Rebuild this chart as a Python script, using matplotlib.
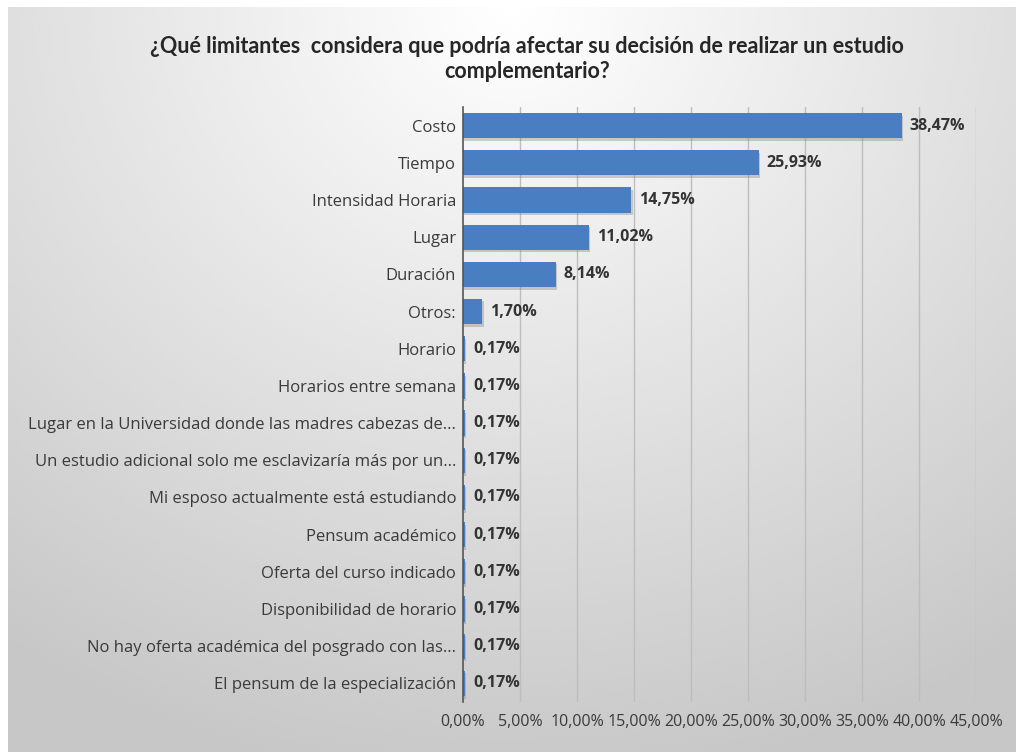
import matplotlib.pyplot as plt
import numpy as np

plt.rcParams['font.family'] = ['Open Sans', 'DejaVu Sans']

categorias = [
    'Costo',
    'Tiempo',
    'Intensidad Horaria',
    'Lugar',
    'Duración',
    'Otros:',
    'Horario',
    'Horarios entre semana',
    'Lugar en la Universidad donde las madres cabezas de...',
    'Un estudio adicional solo me esclavizaría más por un...',
    'Mi esposo actualmente está estudiando',
    'Pensum académico',
    'Oferta del curso indicado',
    'Disponibilidad de horario',
    'No hay oferta académica del posgrado con las...',
    'El pensum de la especialización',
]
porcentajes = [38.47, 25.93, 14.75, 11.02, 8.14, 1.70,
               0.17, 0.17, 0.17, 0.17, 0.17, 0.17, 0.17, 0.17, 0.17, 0.17]
ticks_x = [0, 5, 10, 15, 20, 25, 30, 35, 40, 45]

titulo = ('¿Qué limitantes  considera que podría afectar su decisión de realizar un estudio\n'
          'complementario?')

fig = plt.figure(figsize=(10.16, 7.52), dpi=100)
fig.patch.set_facecolor('white')

# fondo degradado del área del gráfico
bg = fig.add_axes([8 / 1016, 0, 1 - 8 / 1016, 1 - 7 / 752])
yy, xx = np.mgrid[0:1:300j, 0:1:400j]
dist = np.sqrt(((xx - 0.5) * 1.15) ** 2 + (yy * 0.95) ** 2)
grad = 1.0 - 0.22 * np.clip(dist, 0, 1)
bg.imshow(grad, cmap='gray', vmin=0, vmax=1, aspect='auto',
          extent=[0, 1, 1, 0], interpolation='bicubic')
bg.set_axis_off()

ax = fig.add_axes([463 / 1016, 50 / 752, (976 - 463) / 1016, 595 / 752])
ax.set_facecolor('none')

y = np.arange(len(categorias))
# sombra de las barras
ax.barh(y + 0.07, porcentajes, height=0.68, left=0.12, color='#7a7a7a',
        alpha=0.35, zorder=2)
ax.barh(y, porcentajes, height=0.68, color='#4A7EC2', zorder=3)

for yi, v in zip(y, porcentajes):
    ax.text(v + 0.7, yi, f'{v:.2f}%'.replace('.', ','), va='center', ha='left',
            fontsize=11.5, fontweight='bold', color='#333333', zorder=4)

ax.set_ylim(len(categorias) - 0.5, -0.5)
ax.set_xlim(0, 45)
ax.set_yticks(y)
ax.set_yticklabels(categorias, fontsize=12, color='#3a3a3a')
ax.set_xticks(ticks_x)
ax.set_xticklabels([f'{t:.2f}%'.replace('.', ',') for t in ticks_x],
                   fontsize=11.5, color='#3a3a3a')
ax.tick_params(axis='both', length=0)
ax.tick_params(axis='x', pad=9)
ax.tick_params(axis='y', pad=5)

for t in ticks_x[1:]:
    ax.axvline(t, color='#bdbdbd', lw=1, zorder=1)

for s in ['top', 'right', 'bottom']:
    ax.spines[s].set_visible(False)
ax.spines['left'].set_color('#555555')
ax.spines['left'].set_linewidth(1.2)
ax.spines['left'].set_zorder(5)

fig.text(0.519, 0.922, titulo, ha='center', va='center', fontsize=15.5,
         fontweight='bold', color='#262626', linespacing=1.25,
         family=['Lato', 'DejaVu Sans'])

fig.savefig('out.png', dpi=100)
